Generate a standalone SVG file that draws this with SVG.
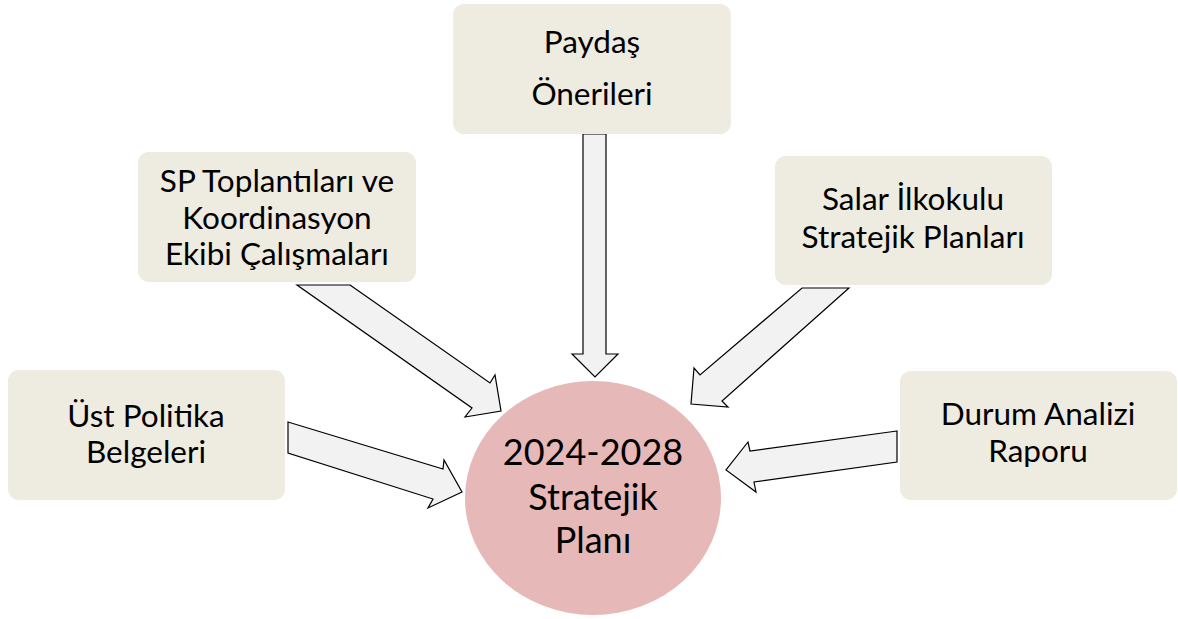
<svg xmlns="http://www.w3.org/2000/svg" width="1178" height="619" viewBox="0 0 1178 619">
<style>
.box{fill:#EEEBE0;}
.arr{fill:#F2F2F2;stroke:#000;stroke-width:1.2;stroke-linejoin:miter;}
.t{font-family:Lato,"Liberation Sans",sans-serif;font-size:31.5px;fill:#000;text-anchor:middle;}
.c{font-family:Lato,"Liberation Sans",sans-serif;font-size:36px;fill:#000;text-anchor:middle;}
</style>
<rect width="1178" height="619" fill="#fff"/>
<g id="connectors">
<polygon class="arr" points="583,134 606,134 606,354 618,354 595,377 572,354 583,354"/>
<polygon class="arr" points="350,285 490,383 495,375 501,411 465,417 472,408 297,285"/>
<polygon class="arr" points="849,288 722,401 728,407 691,404 694,368 700,375 802,288"/>
<polygon class="arr" points="288,422 443,469 444,460 462,492 428,508 433,499 288,453"/>
<polygon class="arr" points="897,431 750,451 748,442 726,470 756,492 754,482 897,462"/>
</g>
<g id="n-ust">
<rect class="box" x="8" y="370" width="277" height="130" rx="11"/>
<text class="t" x="146" y="427">Üst Politika</text>
<text class="t" x="146" y="463">Belgeleri</text>
</g>
<g id="n-sp">
<rect class="box" x="138" y="152" width="278" height="130" rx="11"/>
<text class="t" x="277" y="192">SP Toplantıları ve</text>
<text class="t" x="277" y="229">Koordinasyon</text>
<text class="t" x="277" y="265">Ekibi Çalışmaları</text>
</g>
<g id="n-paydas">
<rect class="box" x="453" y="4" width="278" height="130" rx="11"/>
<text class="t" x="592" y="53">Paydaş</text>
<text class="t" x="592" y="105">Önerileri</text>
</g>
<g id="n-salar">
<rect class="box" x="775" y="156" width="277" height="129" rx="11"/>
<text class="t" x="913" y="210">Salar İlkokulu</text>
<text class="t" x="913" y="248">Stratejik Planları</text>
</g>
<g id="n-durum">
<rect class="box" x="900" y="371" width="277" height="129" rx="11"/>
<text class="t" x="1038" y="425">Durum Analizi</text>
<text class="t" x="1038" y="462">Raporu</text>
</g>
<g id="n-plan">
<ellipse cx="593" cy="498" rx="128" ry="117" fill="#E6B8B7"/>
<text class="c" x="593" y="465">2024-2028</text>
<text class="c" x="593" y="510">Stratejik</text>
<text class="c" x="593" y="553">Planı</text>
</g>
</svg>
